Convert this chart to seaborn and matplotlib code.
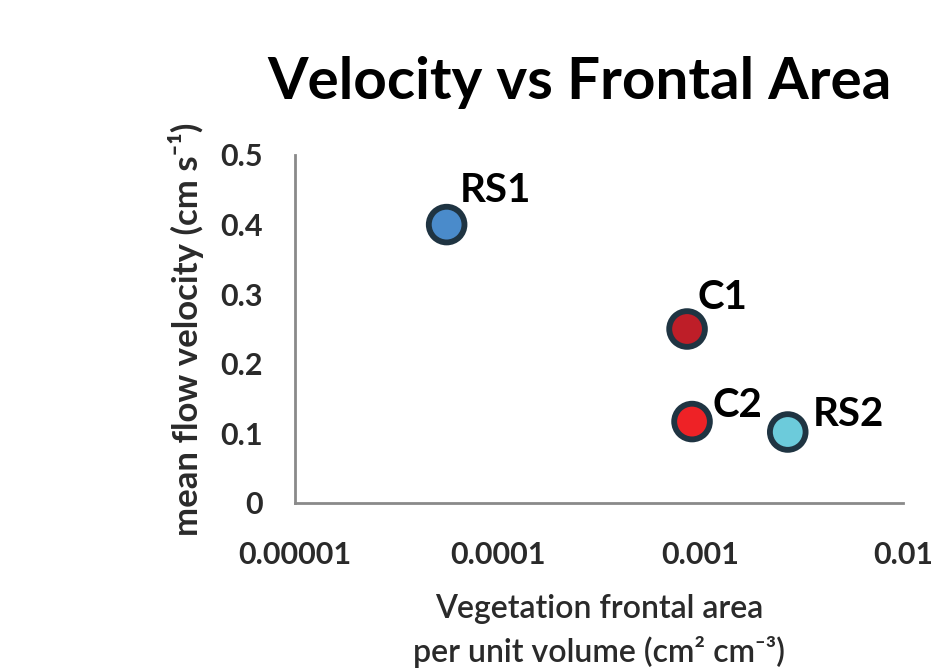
import matplotlib
matplotlib.use("Agg")
import matplotlib.pyplot as plt
import seaborn as sns
import pandas as pd

sites = ["RS1", "C1", "C2", "RS2"]
frontal_area = [5.6e-5, 8.6e-4, 9.1e-4, 2.7e-3]
velocity = [0.40, 0.25, 0.117, 0.102]
colors = ["#4a8bcb", "#be1e28", "#ee2226", "#6ccbdb"]
label_offsets = [(13, 23), (10, 20), (20, 5), (25, 6)]
x_ticks = [1e-5, 1e-4, 1e-3, 1e-2]
x_tick_labels = ["0.00001", "0.0001", "0.001", "0.01"]
y_ticks = [0, 0.1, 0.2, 0.3, 0.4, 0.5]
y_tick_labels = ["0", "0.1", "0.2", "0.3", "0.4", "0.5"]

df = pd.DataFrame({"site": sites, "x": frontal_area, "y": velocity})

sns.set_theme(style="white")
plt.rcParams["font.family"] = ["Lato", "DejaVu Sans"]

fig = plt.figure(figsize=(9.31, 6.71), dpi=100)
ax = fig.add_axes([295/931, 168/671, (903-295)/931, (503-155)/671])

sns.scatterplot(data=df, x="x", y="y", hue="site", palette=dict(zip(sites, colors)),
                s=660, edgecolor="#1f3442", linewidth=4.2, legend=False, ax=ax, zorder=3)

ax.set_xscale("log")
ax.set_xlim(1e-5, 1e-2)
ax.set_ylim(0, 0.5)
ax.set_xticks(x_ticks)
ax.set_xticklabels(x_tick_labels)
ax.set_yticks(y_ticks)
ax.set_yticklabels(y_tick_labels)
ax.xaxis.set_minor_locator(matplotlib.ticker.NullLocator())

for side in ["top", "right"]:
    ax.spines[side].set_visible(False)
for side in ["left", "bottom"]:
    ax.spines[side].set_color("#8a8a8a")
    ax.spines[side].set_linewidth(2)

ax.tick_params(axis="both", which="major", direction="out", length=9, width=2,
               color="#8a8a8a", labelsize=22, labelcolor="#2a2a2a")
ax.tick_params(axis="x", pad=18)
ax.tick_params(axis="y", pad=14)
for lab in ax.get_xticklabels() + ax.get_yticklabels():
    lab.set_fontweight("bold")

ax.set_xlabel("Vegetation frontal area\nper unit volume (cm² cm⁻³)",
              fontsize=23, fontweight="semibold", color="#2a2a2a", labelpad=18,
              linespacing=1.5)
ax.set_ylabel("mean flow velocity (cm s⁻¹)", fontsize=25, fontweight="bold",
              color="#2a2a2a", labelpad=12)

for s, x, y, (dx, dy) in zip(sites, frontal_area, velocity, label_offsets):
    ax.annotate(s, (x, y), xytext=(dx, dy), textcoords="offset pixels",
                ha="left", va="baseline", fontsize=29, fontweight="bold", color="black")

fig.text(0.623, 0.877, "Velocity vs Frontal Area", ha="center", va="center",
         fontsize=42, fontweight="bold", color="black")

fig.savefig("out.png", dpi=100)
